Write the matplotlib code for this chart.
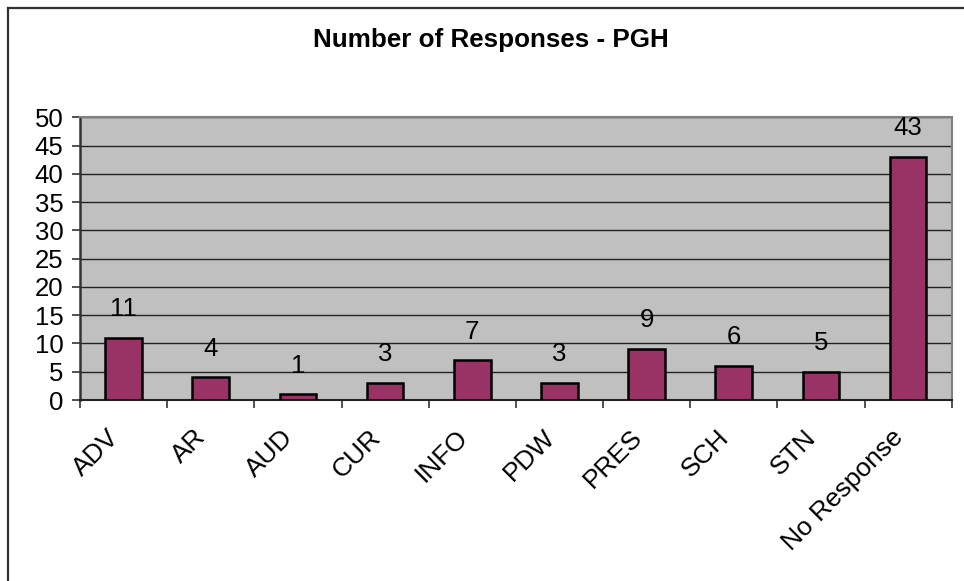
import matplotlib
matplotlib.use("Agg")
import matplotlib.pyplot as plt
from matplotlib.lines import Line2D
from matplotlib.transforms import ScaledTranslation
import numpy as np

plt.rcParams['font.family'] = ['Liberation Sans', 'DejaVu Sans']

categories = ["ADV", "AR", "AUD", "CUR", "INFO", "PDW", "PRES", "SCH", "STN", "No Response"]
values = [11, 4, 1, 3, 7, 3, 9, 6, 5, 43]
yticks = [0, 5, 10, 15, 20, 25, 30, 35, 40, 45, 50]
title = "Number of Responses - PGH"

W, H = 964, 581
fig = plt.figure(figsize=(W / 100, H / 100), dpi=100)
fig.patch.set_facecolor("white")

# outer chart frame (top and left edges visible)
fig.add_artist(Line2D([8 / W, 8 / W], [0, 1 - 8 / H], color="#333333", lw=1.6, transform=fig.transFigure))
fig.add_artist(Line2D([8 / W, 1.0], [1 - 8 / H, 1 - 8 / H], color="#333333", lw=1.6, transform=fig.transFigure))

left, right = 80 / W, 951.7 / W
bottom, top = (H - 400) / H, (H - 117.3) / H
ax = fig.add_axes([left, bottom, right - left, top - bottom])
ax.set_facecolor("#C0C0C0")

x = np.arange(len(categories))
ax.bar(x, values, width=0.42, color="#993366", edgecolor="black", linewidth=1.8, zorder=3)

for xi, v in zip(x, values):
    ax.annotate(str(v), (xi, v), xytext=(0, 12), textcoords="offset points",
                ha="center", va="bottom", fontsize=18.5, zorder=4)

ax.set_xlim(-0.5, len(categories) - 0.5)
ax.set_ylim(0, 50)
ax.set_yticks(yticks)
ax.set_yticklabels([str(t) for t in yticks], fontsize=18.5)
ax.yaxis.grid(True, color="#222222", linewidth=1.0, zorder=1)
ax.set_axisbelow(True)

ax.set_xticks(x)
ax.set_xticklabels(categories, fontsize=19, rotation=45, ha="right", rotation_mode="anchor")
ax.set_xticks(np.arange(len(categories) + 1) - 0.5, minor=True)
ax.tick_params(axis="x", which="major", length=0, pad=18)
ax.tick_params(axis="x", which="minor", length=6, width=1.2, color="#333333", direction="out")
ax.tick_params(axis="y", which="major", length=6, width=1.2, color="#333333", direction="out", pad=6)
for lab in ax.get_xticklabels():
    lab.set_transform(lab.get_transform() + ScaledTranslation(-0.17, 0, fig.dpi_scale_trans))

for s in ["top", "right"]:
    ax.spines[s].set_color("#808080")
    ax.spines[s].set_linewidth(1.5)
ax.spines["left"].set_color("#333333")
ax.spines["left"].set_linewidth(1.8)
ax.spines["bottom"].set_color("#222222")
ax.spines["bottom"].set_linewidth(1.5)

fig.text(491 / W, 1 - 40 / H, title, ha="center", va="center", fontsize=18.7, fontweight="bold")

fig.savefig("out.png", dpi=100)
